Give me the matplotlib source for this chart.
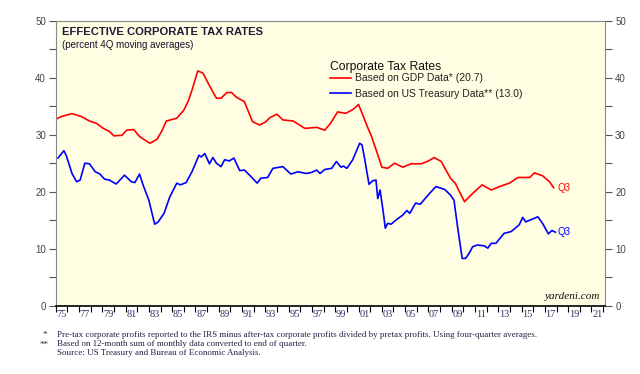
import matplotlib
matplotlib.use("Agg")
import matplotlib.pyplot as plt
from matplotlib.ticker import MultipleLocator, FixedLocator, NullFormatter

# ---- data ----
gdp_years = [1975.0, 1975.5, 1976.4, 1977.2, 1977.9, 1978.5, 1979.1, 1979.6, 1980.0, 1980.7,
             1981.1, 1981.7, 1982.2, 1982.7, 1983.1, 1983.7, 1984.1, 1984.5, 1985.4, 1986.0,
             1986.4, 1986.7, 1987.2, 1987.65, 1988.1, 1988.8, 1989.2, 1989.7, 1990.1, 1990.5,
             1991.2, 1991.9, 1992.5, 1993.0, 1993.4, 1994.0, 1994.5, 1995.4, 1996.4, 1997.4,
             1998.1, 1998.6, 1999.2, 1999.9, 2000.5, 2001.0, 2001.3, 2001.7, 2002.1, 2002.8,
             2003.0, 2003.5, 2004.1, 2004.8, 2005.5, 2006.4, 2007.0, 2007.5, 2008.1, 2008.9,
             2009.3, 2010.1, 2010.8, 2011.6, 2012.4, 2013.1, 2013.95, 2014.7, 2015.7, 2016.1,
             2016.8, 2017.4, 2017.75]
gdp_vals = [32.7, 33.2, 33.7, 33.2, 32.4, 32.0, 31.1, 30.6, 29.8, 29.9,
            30.8, 30.9, 29.7, 29.0, 28.5, 29.2, 30.6, 32.4, 32.9, 34.3,
            36.0, 37.8, 41.2, 40.8, 39.0, 36.4, 36.4, 37.4, 37.4, 36.6,
            35.8, 32.3, 31.7, 32.2, 33.0, 33.6, 32.6, 32.4, 31.1, 31.3,
            30.8, 32.0, 34.0, 33.75, 34.4, 35.3, 33.8, 31.7, 29.8, 25.6,
            24.3, 24.1, 25.0, 24.3, 24.9, 24.9, 25.4, 26.0, 25.3, 22.35,
            21.5, 18.25, 19.7, 21.2, 20.3, 20.9, 21.5, 22.5, 22.5, 23.3,
            22.8, 21.75, 20.7]

tsy_years = [1975.2, 1975.7, 1975.9, 1976.4, 1976.8, 1977.1, 1977.5, 1977.9, 1978.4, 1978.8,
             1979.2, 1979.6, 1980.2, 1980.9, 1981.5, 1981.8, 1982.2, 1982.5, 1983.0, 1983.5,
             1983.8, 1984.3, 1984.8, 1985.4, 1985.7, 1986.2, 1986.7, 1987.3, 1987.5, 1987.8,
             1988.2, 1988.5, 1988.8, 1989.2, 1989.5, 1989.9, 1990.3, 1990.8, 1991.2, 1991.65,
             1992.3, 1992.6, 1993.2, 1993.65, 1994.5, 1995.2, 1995.8, 1996.5, 1997.0, 1997.4,
             1997.7, 1998.1, 1998.7, 1999.1, 1999.5, 1999.7, 2000.0, 2000.5, 2001.1, 2001.3,
             2001.5, 2001.9, 2002.2, 2002.5, 2002.65, 2002.85, 2003.1, 2003.3, 2003.5, 2003.8,
             2004.2, 2004.8, 2005.15, 2005.4, 2005.9, 2006.3, 2007.1, 2007.65, 2008.4, 2008.9,
             2009.2, 2009.5, 2009.9, 2010.2, 2010.5, 2010.8, 2011.2, 2011.8, 2012.1, 2012.4,
             2012.8, 2013.5, 2014.1, 2014.8, 2015.1, 2015.35, 2016.4, 2016.8, 2017.3, 2017.6,
             2017.9]
tsy_vals = [25.9, 27.2, 26.4, 23.2, 21.75, 22.05, 25.0, 24.9, 23.5, 23.1,
            22.2, 22.05, 21.35, 22.9, 21.75, 21.6, 23.1, 21.2, 18.5, 14.3,
            14.7, 16.2, 19.1, 21.5, 21.2, 21.6, 23.5, 26.4, 26.1, 26.7,
            24.9, 26.0, 25.0, 24.4, 25.6, 25.4, 25.9, 23.7, 23.8, 22.9,
            21.5, 22.35, 22.5, 24.1, 24.4, 23.1, 23.5, 23.2, 23.4, 23.8,
            23.2, 23.9, 24.1, 25.3, 24.3, 24.5, 24.1, 25.6, 28.5, 28.2,
            26.1, 21.3, 21.9, 22.05, 18.8, 20.3, 16.8, 13.6, 14.45, 14.3,
            15.0, 15.9, 16.7, 16.2, 18.0, 17.8, 19.7, 20.9, 20.4, 19.4,
            18.5, 13.9, 8.3, 8.3, 9.2, 10.35, 10.65, 10.5, 10.1, 10.95,
            10.95, 12.7, 13.0, 14.2, 15.5, 14.7, 15.6, 14.45, 12.6, 13.2,
            12.9]

series_labels = ["Based on GDP Data* (20.7)", "Based on US Treasury Data** (13.0)"]
series_colors = ["#ff0000", "#0000ff"]
x_labels = ["75", "77", "79", "81", "83", "85", "87", "89", "91", "93", "95", "97",
            "99", "01", "03", "05", "07", "09", "11", "13", "15", "17", "19", "21"]
x_label_years = list(range(1975, 2022, 2))
y_ticks = [0, 10, 20, 30, 40, 50]

# ---- figure ----
fig = plt.figure(figsize=(6.4, 3.74), dpi=100)
fig.patch.set_facecolor("white")
ax = fig.add_axes([0.087, 0.1826, 0.859, 0.762])
ax.set_facecolor("#fffee2")

ax.plot(gdp_years, gdp_vals, color=series_colors[0], lw=1.2, label=series_labels[0])
ax.plot(tsy_years, tsy_vals, color=series_colors[1], lw=1.2, label=series_labels[1])

ax.set_xlim(1975, 2022.2)
ax.set_ylim(0, 50)

# y axis ticks on both sides
ax.yaxis.set_major_locator(FixedLocator(y_ticks))
ax.yaxis.set_minor_locator(MultipleLocator(5))
ax.tick_params(axis="y", which="both", direction="out", left=True, right=True,
               labelleft=True, labelright=True, labelsize=7, labelcolor="#444444",
               color="#555555", length=5, width=0.8, pad=2)
for lab in ax.get_yticklabels():
    lab.set_family("Liberation Sans")

# x axis: tick marks at year boundaries, labels centered within years
ax.xaxis.set_major_locator(FixedLocator(list(range(1975, 2023))))
ax.xaxis.set_major_formatter(NullFormatter())
ax.xaxis.set_minor_locator(FixedLocator([y + 0.5 for y in x_label_years]))
ax.set_xticklabels(x_labels, minor=True)
ax.tick_params(axis="x", which="major", direction="out", length=4, width=0.8, color="black")
ax.tick_params(axis="x", which="minor", length=0, labelsize=7.5, pad=3, labelcolor="#333366")
for lab in ax.get_xticklabels(minor=True):
    lab.set_family("Liberation Serif")

for side in ["left", "right", "top"]:
    ax.spines[side].set_color("#888888")
    ax.spines[side].set_linewidth(0.8)
ax.spines["bottom"].set_color("black")
ax.spines["bottom"].set_linewidth(1.2)

# titles
ax.text(0.012, 0.962, "EFFECTIVE CORPORATE TAX RATES", transform=ax.transAxes,
        fontsize=8.15, fontweight="bold", color="#1c1c38", family="Liberation Sans",
        va="center", ha="left")
ax.text(0.012, 0.916, "(percent 4Q moving averages)", transform=ax.transAxes,
        fontsize=7, color="#14142e", family="Liberation Sans", va="center", ha="left")

# legend
ax.text(0.4995, 0.836, "Corporate Tax Rates", transform=ax.transAxes, fontsize=8.7,
        color="#111111", family="Liberation Sans", va="center", ha="left")
leg = ax.legend(loc="upper left", bbox_to_anchor=(0.4987, 0.815), frameon=False,
                handlelength=2.0, handletextpad=0.4, borderaxespad=0, borderpad=0,
                labelspacing=0.5, prop={"family": "Liberation Sans", "size": 7.5})
for t in leg.get_texts():
    t.set_color("#222222")

# end labels
ax.text(gdp_years[-1] + 0.3, gdp_vals[-1], "Q3", color=series_colors[0], fontsize=7,
        va="center", ha="left", family="Liberation Sans")
ax.text(tsy_years[-1] + 0.2, tsy_vals[-1], "Q3", color=series_colors[1], fontsize=7,
        va="center", ha="left", family="Liberation Sans")

ax.text(0.99, 0.018, "yardeni.com", transform=ax.transAxes, fontsize=8,
        style="italic", family="Liberation Serif", ha="right", va="bottom", color="#111111")

# footnotes
fc = "#222244"
fig.text(0.067, 0.104, "*", fontsize=6.5, family="Liberation Serif", ha="left", va="center", color=fc)
fig.text(0.089, 0.104, "Pre-tax corporate profits reported to the IRS minus after-tax corporate profits divided by pretax profits. Using four-quarter averages.",
         fontsize=6.5, family="Liberation Serif", ha="left", va="center", color=fc)
fig.text(0.062, 0.079, "**", fontsize=6.5, family="Liberation Serif", ha="left", va="center", color=fc)
fig.text(0.089, 0.079, "Based on 12-month sum of monthly data converted to end of quarter.",
         fontsize=6.5, family="Liberation Serif", ha="left", va="center", color=fc)
fig.text(0.089, 0.055, "Source: US Treasury and Bureau of Economic Analysis.",
         fontsize=6.5, family="Liberation Serif", ha="left", va="center", color=fc)

fig.savefig("out.png", dpi=100, facecolor="white")
